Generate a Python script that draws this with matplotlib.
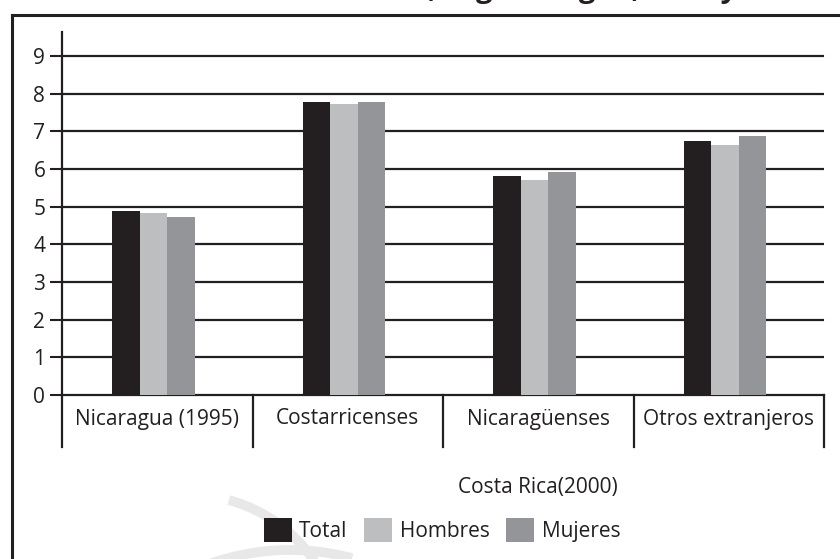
"""Average years of schooling by origin and sex, grouped bar chart."""

import matplotlib.pyplot as plt
from matplotlib.lines import Line2D
from matplotlib.patches import Arc, Patch
from matplotlib.transforms import IdentityTransform, blended_transform_factory
import numpy as np

plt.rcParams["font.family"] = ["Open Sans", "DejaVu Sans"]

categories = ["Nicaragua (1995)", "Costarricenses", "Nicaragüenses", "Otros extranjeros"]
series_names = ["Total", "Hombres", "Mujeres"]
total = [4.88, 7.78, 5.81, 6.74]
hombres = [4.83, 7.73, 5.71, 6.64]
mujeres = [4.73, 7.78, 5.92, 6.88]
y_ticks = list(range(10))
group_label = "Costa Rica(2000)"
title = "Años de escolaridad media, según origen, sexo y año"

INK = "#231f20"
colors = [INK, "#bcbec0", "#939598"]

W, H = 840, 559
fig = plt.figure(figsize=(W / 100, H / 100), dpi=100)
fig.patch.set_facecolor("white")


def fx(px):
    return px / W


def fy(py):
    return 1 - py / H


# faint watermark swooshes behind everything
for cx, cy, r, t1, t2 in [(190, 645, 150, 20, 75), (290, 790, 240, 75, 115)]:
    fig.add_artist(Arc((cx, H - cy), 2 * r, 2 * r, theta1=t1, theta2=t2,
                       transform=IdentityTransform(), color="#e8e8e8", lw=7, zorder=0))

ax = fig.add_axes([fx(62), fy(395), fx(824) - fx(62), fy(32) - fy(395)])
ax.set_facecolor("none")

x = np.arange(len(categories))
bar_w = 0.1444
shift = -0.02
for i, (name, vals) in enumerate(zip(series_names, [total, hombres, mujeres])):
    ax.bar(x + shift + (i - 1) * bar_w, vals, bar_w, color=colors[i],
           label=name, zorder=3, linewidth=0)

ax.set_xlim(-0.5, len(categories) - 0.5)
ax.set_ylim(0, 9.64)
ax.set_yticks(y_ticks)
ax.set_xticks([])
for yv in y_ticks[1:]:
    ax.axhline(yv, color=INK, lw=1.6, zorder=1)

for side in ("top", "right"):
    ax.spines[side].set_visible(False)
for side in ("left", "bottom"):
    ax.spines[side].set_color(INK)
    ax.spines[side].set_linewidth(1.6)
ax.tick_params(axis="y", direction="out", length=9, width=1.5, color=INK,
               labelsize=15, labelcolor=INK, pad=3)

# category separators hanging below the axis
sep_tr = blended_transform_factory(ax.transData, ax.transAxes)
drop = -(447 - 395) / (395 - 32)
for xs in np.arange(-0.5, len(categories), 1.0):
    ax.add_line(Line2D([xs, xs], [0, drop], transform=sep_tr, color=INK,
                       lw=1.6, clip_on=False))

for xi, label in zip(x, categories):
    ax.text(xi, -(419 - 395) / (395 - 32), label, transform=sep_tr,
            ha="center", va="center", fontsize=15, color=INK)

ax.text(2.0, -(487 - 395) / (395 - 32), group_label, transform=sep_tr,
        ha="center", va="center", fontsize=15, color=INK)

handles = [Patch(facecolor=c, edgecolor="none") for c in colors]
fig.legend(handles, series_names, loc="center", bbox_to_anchor=(fx(442), fy(530)),
           ncol=3, frameon=False, fontsize=15, handlelength=1.35, handleheight=1.35,
           handletextpad=0.35, columnspacing=0.8, labelcolor=INK)

# outer frame: left and top edges only
fig.add_artist(Line2D([fx(12), fx(12)], [fy(15), 0], transform=fig.transFigure,
                      color=INK, lw=2.2))
fig.add_artist(Line2D([fx(12), 1], [fy(15), fy(15)], transform=fig.transFigure,
                      color=INK, lw=2.2))

# title runs off the top edge; only its descenders land on the page
fig.text(0.5, fy(-3), title, ha="center", va="baseline", fontsize=21,
         fontweight="bold", color=INK)

fig.savefig("out.png", dpi=100)
